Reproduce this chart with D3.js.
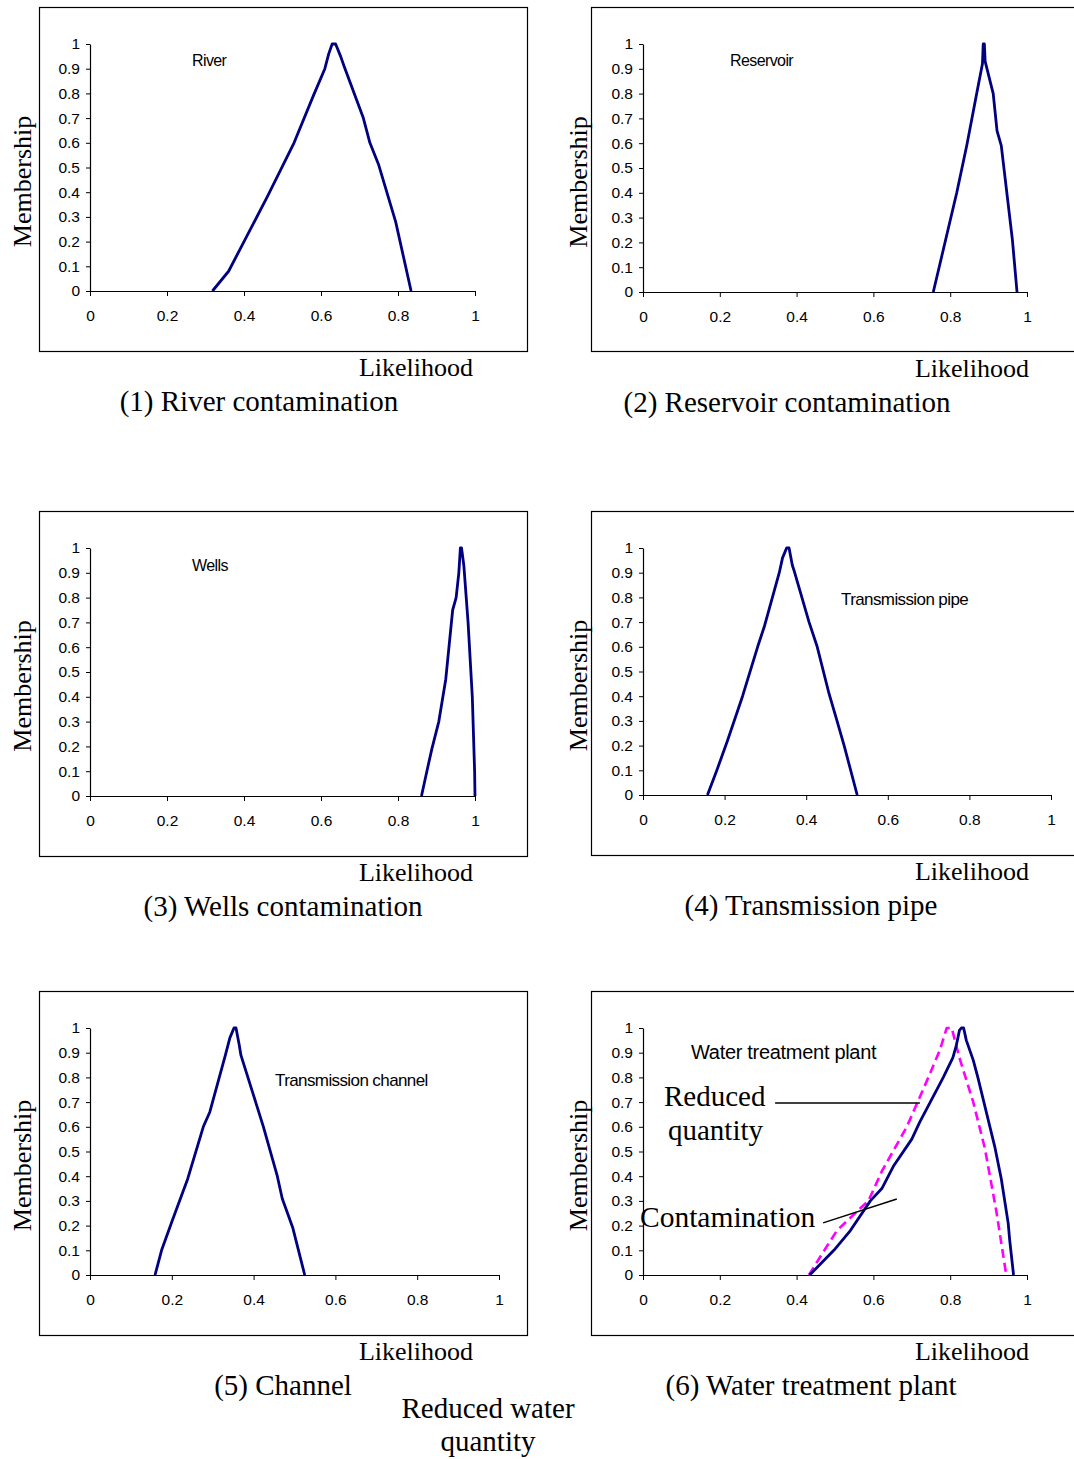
<!DOCTYPE html>
<html>
<head>
<meta charset="utf-8">
<script src="https://cdn.jsdelivr.net/npm/d3@7"></script>
<style>
  body { margin: 0; background: #fff; }
  svg { display: block; }
  .tick text { font-family: "Liberation Sans", Arial, sans-serif; font-size: 15.5px; fill: #000; }
  .serif { font-family: "Liberation Serif", "Times New Roman", serif; fill: #000; }
  .sans { font-family: "Liberation Sans", Arial, sans-serif; fill: #000; }
</style>
</head>
<body>
<svg width="1074" height="1459"></svg>
<script>
// membership curves, [likelihood, membership]
var river = [[0.318,0],[0.36,0.08],[0.40,0.20],[0.46,0.38],[0.53,0.60],[0.58,0.79],[0.61,0.90],[0.62,0.96],[0.629,1],[0.638,1],[0.651,0.95],[0.66,0.91],[0.71,0.70],[0.727,0.60],[0.75,0.51],[0.794,0.28],[0.834,0]];
var reservoir = [[0.756,0],[0.817,0.40],[0.843,0.59],[0.869,0.80],[0.884,0.92],[0.886,1],[0.889,1],[0.891,0.93],[0.912,0.80],[0.922,0.65],[0.933,0.59],[0.962,0.21],[0.974,0]];
var wells = [[0.861,0],[0.875,0.10],[0.888,0.19],[0.906,0.30],[0.924,0.47],[0.942,0.75],[0.951,0.80],[0.958,0.90],[0.962,1],[0.965,1],[0.971,0.93],[0.982,0.70],[0.993,0.40],[0.999,0.10],[1.0,0]];
var pipe = [[0.158,0],[0.181,0.10],[0.207,0.22],[0.244,0.40],[0.281,0.60],[0.297,0.68],[0.334,0.90],[0.342,0.96],[0.352,1],[0.358,1],[0.366,0.93],[0.370,0.91],[0.407,0.70],[0.427,0.60],[0.456,0.41],[0.472,0.32],[0.493,0.20],[0.525,0]];
var channel = [[0.159,0],[0.175,0.10],[0.201,0.22],[0.239,0.39],[0.277,0.60],[0.293,0.66],[0.331,0.89],[0.342,0.96],[0.352,1],[0.357,1],[0.365,0.93],[0.369,0.89],[0.407,0.69],[0.424,0.60],[0.458,0.40],[0.470,0.31],[0.496,0.19],[0.525,0]];
var wtpContamination = [[0.434,0],[0.497,0.10],[0.540,0.18],[0.592,0.30],[0.622,0.35],[0.652,0.44],[0.700,0.55],[0.721,0.62],[0.782,0.80],[0.807,0.88],[0.816,0.93],[0.824,0.99],[0.829,1],[0.835,1],[0.842,0.95],[0.860,0.87],[0.872,0.80],[0.916,0.52],[0.933,0.39],[0.951,0.21],[0.955,0.14],[0.965,0]];
var wtpReduced = [[0.432,0],[0.458,0.065],[0.505,0.18],[0.566,0.27],[0.587,0.30],[0.622,0.42],[0.687,0.60],[0.739,0.785],[0.773,0.91],[0.791,1],[0.804,1],[0.824,0.88],[0.860,0.70],[0.890,0.515],[0.920,0.26],[0.946,0]];

var xTicks = [0, 0.2, 0.4, 0.6, 0.8, 1];
var yTicks = [0, 0.1, 0.2, 0.3, 0.4, 0.5, 0.6, 0.7, 0.8, 0.9, 1];

var captions = ["(1) River contamination", "(2) Reservoir contamination", "(3) Wells contamination",
                "(4) Transmission pipe", "(5) Channel", "(6) Water treatment plant"];
var insideLabels = ["River", "Reservoir", "Wells", "Transmission pipe", "Transmission channel", "Water treatment plant"];

// leader lines in panel 6, in data units [x1, y1, x2, y2]
var leaders = [[0.344, 0.696, 0.721, 0.696], [0.469, 0.211, 0.661, 0.308]];

var panels = [
  { series: [river], box: [39, 7, 488, 344], ox: 90, oy: 291, w: 385, h: 247, cx: 259, lab: [192, 66], fs: 16 },
  { series: [reservoir], box: [591, 7, 500, 344], ox: 643, oy: 292, w: 384, h: 248, cx: 787, lab: [730, 66], fs: 16 },
  { series: [wells], box: [39, 511, 488, 345], ox: 90, oy: 796, w: 385, h: 248, cx: 283, lab: [192, 571], fs: 16 },
  { series: [pipe], box: [591, 511, 500, 344], ox: 643, oy: 795, w: 408, h: 247, cx: 811, lab: [841, 605], fs: 17 },
  { series: [channel], box: [39, 991, 488, 344], ox: 90, oy: 1275, w: 409, h: 247, cx: 283, lab: [275, 1086], fs: 17 },
  { series: [wtpReduced, wtpContamination], box: [591, 991, 500, 344], ox: 643, oy: 1275, w: 384, h: 247, cx: 811, lab: [691, 1059], fs: 20 }
];

var svg = d3.select("svg");

panels.forEach(function(p, i) {
  var g = svg.append("g");
  var left = i % 2 == 0;

  g.append("rect")
      .attr("x", p.box[0] + 0.5).attr("y", p.box[1] + 0.5)
      .attr("width", p.box[2]).attr("height", p.box[3])
      .attr("fill", "none").attr("stroke", "#000").attr("stroke-width", 1.2);

  var x = d3.scaleLinear().domain([0, 1]).range([p.ox, p.ox + p.w]);
  var y = d3.scaleLinear().domain([0, 1]).range([p.oy, p.oy - p.h]);

  g.append("g")
      .attr("transform", "translate(0," + p.oy + ")")
      .call(d3.axisBottom(x).tickValues(xTicks).tickFormat(d3.format("")).tickSize(5).tickSizeOuter(0).tickPadding(14))
      .call(function(a) { a.select(".domain").attr("stroke-width", 1.2); });

  g.append("g")
      .attr("transform", "translate(" + p.ox + ",0)")
      .call(d3.axisLeft(y).tickValues(yTicks).tickFormat(d3.format("")).tickSize(4).tickSizeOuter(0).tickPadding(6))
      .call(function(a) { a.select(".domain").attr("stroke-width", 1.2); });

  g.selectAll(".tick line").attr("stroke", "#000");
  g.selectAll(".domain").attr("stroke", "#000");

  var line = d3.line().x(function(d) { return x(d[0]); }).y(function(d) { return y(d[1]); });

  p.series.forEach(function(s, k) {
    var dashed = p.series.length > 1 && k == 0;
    g.append("path")
        .datum(s)
        .attr("d", line)
        .attr("fill", "none")
        .attr("stroke", dashed ? "#ff00ff" : "#000080")
        .attr("stroke-width", dashed ? 2.6 : 2.8)
        .attr("stroke-dasharray", dashed ? "9,5" : null)
        .attr("stroke-linejoin", "round");
  });

  // axis titles
  var rx = left ? 473 : 1029;
  g.append("text").attr("class", "serif")
      .attr("x", rx).attr("y", p.oy + 85)
      .attr("text-anchor", "end").style("font-size", "26px")
      .text("Likelihood");

  var mx = left ? 31 : 587;
  var my = p.oy - p.h / 2 + 14;
  g.append("text").attr("class", "serif")
      .attr("transform", "translate(" + mx + "," + my + ") rotate(-90)")
      .attr("text-anchor", "middle").style("font-size", "26px")
      .text("Membership");

  g.append("text").attr("class", "serif")
      .attr("x", p.cx).attr("y", p.oy + 120)
      .attr("text-anchor", "middle").style("font-size", "29px")
      .text(captions[i]);

  g.append("text").attr("class", "sans")
      .attr("x", p.lab[0]).attr("y", p.lab[1])
      .style("font-size", p.fs + "px")
      .style("letter-spacing", p.fs == 20 ? "-0.3px" : "-0.6px")
      .text(insideLabels[i]);

  if (p.series.length > 1) {
    leaders.forEach(function(l) {
      g.append("line")
          .attr("x1", x(l[0])).attr("y1", y(l[1]))
          .attr("x2", x(l[2])).attr("y2", y(l[3]))
          .attr("stroke", "#000").attr("stroke-width", 1.5);
    });
    g.append("text").attr("class", "serif").attr("x", 664).attr("y", 1106).style("font-size", "29px").text("Reduced");
    g.append("text").attr("class", "serif").attr("x", 668).attr("y", 1140).style("font-size", "29px").text("quantity");
    g.append("text").attr("class", "serif").attr("x", 640).attr("y", 1227).style("font-size", "29.5px").text("Contamination");
  }
});

svg.append("text").attr("class", "serif")
    .attr("x", 488).attr("y", 1418)
    .attr("text-anchor", "middle").style("font-size", "29px")
    .text("Reduced water");
svg.append("text").attr("class", "serif")
    .attr("x", 488).attr("y", 1451)
    .attr("text-anchor", "middle").style("font-size", "29px")
    .text("quantity");
</script>
</body>
</html>
